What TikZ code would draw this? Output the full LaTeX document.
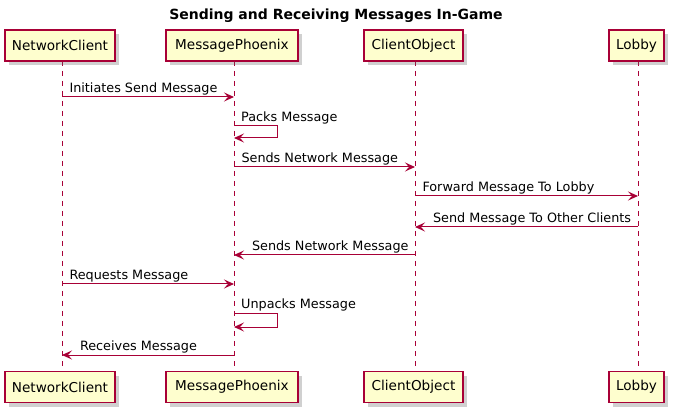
\documentclass[tikz,border=0pt]{standalone}
\usepackage{fontspec}
\setmainfont{DejaVu Sans}
\usetikzlibrary{arrows.meta,shadows,calc}
\definecolor{umlred}{HTML}{A80036}
\definecolor{umlfill}{HTML}{FEFECE}
\begin{document}
\begin{tikzpicture}[x=1pt,y=-1pt,
  part/.style={draw=umlred, fill=umlfill, line width=1.3pt, minimum height=31pt, inner sep=0pt,
    font=\fontsize{13.6}{16}\selectfont,
    drop shadow={shadow xshift=4pt, shadow yshift=-4pt, opacity=0.3, fill=black!60}},
  life/.style={draw=umlred, line width=1pt, dash pattern=on 5pt off 5pt},
  msg/.style={draw=umlred, line width=1pt, -{Stealth[length=10pt,width=9pt,inset=4pt]}},
  lbl/.style={anchor=base west, inner sep=0pt, font=\fontsize{12.8}{15}\selectfont, text=black},
  ttl/.style={anchor=base, inner sep=0pt, font=\bfseries\fontsize{14}{16}\selectfont}]
\fill[white] (0,0) rectangle (673,409);
\useasboundingbox (0,0) rectangle (673,409);

\node[ttl] (title) at (336,20) {Sending and Receiving Messages In-Game};

% lifeline positions
\coordinate (nc) at (62,0);
\coordinate (mp) at (234,0);
\coordinate (co) at (415,0);
\coordinate (lb) at (638,0);

% lifelines
\draw[life] ($(nc)+(0,61)$) -- ($(nc)+(0,372)$);
\draw[life] ($(mp)+(0,61)$) -- ($(mp)+(0,372)$);
\draw[life] ($(co)+(0,61)$) -- ($(co)+(0,372)$);
\draw[life] ($(lb)+(0,61)$) -- ($(lb)+(0,372)$);

% participants top
\node[part, minimum width=110pt] (nct) at (60,45.5) {NetworkClient};
\node[part, minimum width=132pt] (mpt) at (232,45.5) {MessagePhoenix};
\node[part, minimum width=99pt] (cot) at (413.5,45.5) {ClientObject};
\node[part, minimum width=55pt] (lbt) at (636.5,45.5) {Lobby};
% participants bottom
\node[part, minimum width=110pt] (ncb) at (60,387) {NetworkClient};
\node[part, minimum width=132pt] (mpb) at (232,387) {MessagePhoenix};
\node[part, minimum width=99pt] (cob) at (413.5,387) {ClientObject};
\node[part, minimum width=55pt] (lbb) at (636.5,387) {Lobby};

% messages
\draw[msg] ($(nc)+(0,97)$) -- ($(mp)+(0,97)$)
  node[pos=0, lbl, xshift=7pt, yshift=4.5pt] {Initiates Send Message};
\draw[msg] ($(mp)+(0,126)$) -- ++(43,0) -- ++(0,12) -- ++(-43,0);
\node[lbl] (l2) at ($(mp)+(7,121.5)$) {Packs Message};
\draw[msg] ($(mp)+(0,167)$) -- ($(co)+(0,167)$)
  node[pos=0, lbl, xshift=7pt, yshift=4.5pt] {Sends Network Message};
\draw[msg] ($(co)+(0,196)$) -- ($(lb)+(0,196)$)
  node[pos=0, lbl, xshift=7pt, yshift=4.5pt] {Forward Message To Lobby};
\draw[msg] ($(lb)+(0,227)$) -- ($(co)+(0,227)$)
  node[pos=1, lbl, xshift=17.5pt, yshift=4.5pt] {Send Message To Other Clients};
\draw[msg] ($(co)+(0,255)$) -- ($(mp)+(0,255)$)
  node[pos=1, lbl, xshift=17.5pt, yshift=4.5pt] {Sends Network Message};
\draw[msg] ($(nc)+(0,284)$) -- ($(mp)+(0,284)$)
  node[pos=0, lbl, xshift=7pt, yshift=4.5pt] {Requests Message};
\draw[msg] ($(mp)+(0,313)$) -- ++(43,0) -- ++(0,14) -- ++(-43,0);
\node[lbl] (l8) at ($(mp)+(7,308.5)$) {Unpacks Message};
\draw[msg] ($(mp)+(0,355)$) -- ($(nc)+(0,355)$)
  node[pos=1, lbl, xshift=17.5pt, yshift=4.5pt] {Receives Message};
\end{tikzpicture}
\end{document}
